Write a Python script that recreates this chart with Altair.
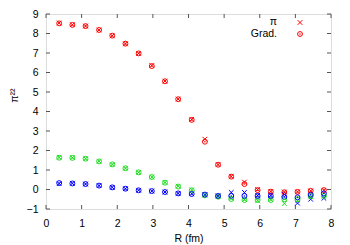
import altair as alt
import pandas as pd

R = [0.37, 0.74, 1.11, 1.49, 1.86, 2.23, 2.60, 2.97, 3.34, 3.71, 4.09,
     4.46, 4.83, 5.20, 5.57, 5.94, 6.31, 6.69, 7.06, 7.43, 7.80]

red_grad = [8.52, 8.44, 8.38, 8.18, 7.89, 7.48, 6.98, 6.33, 5.55, 4.63, 3.57,
            2.45, 1.27, 0.66, 0.28, -0.03, -0.11, -0.14, -0.12, -0.07, -0.03]
red_pi = [8.54, 8.45, 8.38, 8.18, 7.88, 7.47, 6.98, 6.36, 5.56, 4.64, 3.60,
          2.58, 1.28, 0.67, 0.38, 0.00, -0.10, -0.13, -0.12, -0.07, -0.04]
green_grad = [1.63, 1.62, 1.58, 1.44, 1.29, 1.09, 0.88, 0.64, 0.35, 0.15, -0.04,
              -0.30, -0.37, -0.49, -0.54, -0.54, -0.54, -0.50, -0.50, -0.33, -0.33]
green_pi = [1.65, 1.64, 1.58, 1.45, 1.28, 1.09, 0.88, 0.64, 0.36, 0.17, -0.02,
            -0.28, -0.36, -0.45, -0.52, -0.58, -0.52, -0.72, -0.58, -0.38, -0.35]
blue_grad = [0.33, 0.31, 0.28, 0.20, 0.11, 0.04, -0.04, -0.08, -0.13, -0.20, -0.23,
             -0.26, -0.33, -0.33, -0.33, -0.33, -0.33, -0.38, -0.40, -0.27, -0.20]
blue_pi = [0.30, 0.32, 0.28, 0.20, 0.11, 0.04, -0.04, -0.08, -0.13, -0.20, -0.22,
           -0.27, -0.32, -0.15, -0.15, -0.30, -0.30, -0.25, -0.70, -0.50, -0.45]

x_ticks = [0, 1, 2, 3, 4, 5, 6, 7, 8]
y_ticks = [-1, 0, 1, 2, 3, 4, 5, 6, 7, 8, 9]
legend_labels = ["π", "Grad."]

series = ["red", "green", "blue"]
colors = ["#ff0000", "#22dd22", "#0000ff"]

rows = []
for s, pi_vals, gr_vals in [("red", red_pi, red_grad), ("green", green_pi, green_grad), ("blue", blue_pi, blue_grad)]:
    for r, p, g in zip(R, pi_vals, gr_vals):
        rows.append({"R": r, "val": p, "s": s, "m": "pi"})
        rows.append({"R": r, "val": g, "s": s, "m": "grad"})
df = pd.DataFrame(rows)

W, H = 285, 195
FONT = "Liberation Sans"
FS = 10.5

xs = alt.Scale(domain=[0, 8], nice=False, zero=False)
ys = alt.Scale(domain=[-1, 9], nice=False, zero=False)
cs = alt.Scale(domain=series, range=colors)

xaxis = alt.Axis(values=x_ticks, title="R (fm)", domain=False, ticks=False, grid=False,
                 labelPadding=9, titlePadding=5, labelFont=FONT, labelFontSize=FS,
                 labelOverlap=False, labelFlush=False,
                 titleFont=FONT, titleFontSize=FS, titleFontWeight="normal",
                 labelColor="black", titleColor="black")
yaxis = alt.Axis(values=y_ticks, title="π²²", domain=False, ticks=False, grid=False,
                 labelPadding=8, labelFont=FONT, labelFontSize=FS,
                 labelOverlap=False, labelFlush=False,
                 titleFont=FONT, titleFontSize=FS, titleFontWeight="normal",
                 labelColor="black", titleColor="black", titleX=-27, titleY=81)

X = alt.X("R:Q", scale=xs, axis=xaxis)
Y = alt.Y("val:Q", scale=ys, axis=yaxis)

base = alt.Chart(df)
cross_path = "M-1,-1L1,1M-1,1L1,-1"

crosses = base.transform_filter(alt.datum.m == "pi").mark_point(
    shape=cross_path, filled=False, strokeWidth=1, size=22, opacity=1
).encode(x=X, y=Y, color=alt.Color("s:N", scale=cs, legend=None))
circles = base.transform_filter(alt.datum.m == "grad").mark_point(
    shape="circle", filled=False, strokeWidth=1, size=24, opacity=1
).encode(x=X, y=Y, color=alt.Color("s:N", scale=cs, legend=None))
dots = base.transform_filter(alt.datum.m == "grad").mark_point(
    shape="circle", filled=True, size=2.5, opacity=1
).encode(x=X, y=Y, color=alt.Color("s:N", scale=cs, legend=None))

TC = "#555555"
xt = pd.DataFrame({"R": x_ticks})
yt = pd.DataFrame({"val": y_ticks})
xb = alt.Chart(xt).mark_rule(color=TC, strokeWidth=1).encode(
    x=X, y=alt.value(H), y2=alt.value(H - 4))
xtop = alt.Chart(xt).mark_rule(color=TC, strokeWidth=1).encode(
    x=X, y=alt.value(0), y2=alt.value(4))
yl = alt.Chart(yt).mark_rule(color=TC, strokeWidth=1).encode(
    y=Y, x=alt.value(0), x2=alt.value(4))
yr = alt.Chart(yt).mark_rule(color=TC, strokeWidth=1).encode(
    y=Y, x=alt.value(W), x2=alt.value(W - 4))

leg = pd.DataFrame({"label": legend_labels})
leg_pi_text = alt.Chart(leg).transform_filter(alt.datum.label == "π").mark_text(
    align="right", baseline="middle", font=FONT, fontSize=FS, color="black"
).encode(text="label:N", x=alt.value(231), y=alt.value(8))
leg_gr_text = alt.Chart(leg).transform_filter(alt.datum.label == "Grad.").mark_text(
    align="right", baseline="middle", font=FONT, fontSize=FS, color="black"
).encode(text="label:N", x=alt.value(231), y=alt.value(20))
leg_pi_sym = alt.Chart(leg).transform_filter(alt.datum.label == "π").mark_point(
    shape=cross_path, filled=False, strokeWidth=1, size=22, color="#ff0000", opacity=1
).encode(x=alt.value(254), y=alt.value(8.5))
leg_gr_sym = alt.Chart(leg).transform_filter(alt.datum.label == "Grad.").mark_point(
    shape="circle", filled=False, strokeWidth=1, size=24, color="#ff0000", opacity=1
).encode(x=alt.value(254), y=alt.value(20))
leg_gr_dot = alt.Chart(leg).transform_filter(alt.datum.label == "Grad.").mark_point(
    shape="circle", filled=True, size=2.5, color="#ff0000", opacity=1
).encode(x=alt.value(254), y=alt.value(20))

chart = alt.layer(
    xb, xtop, yl, yr, crosses, circles, dots,
    leg_pi_text, leg_gr_text, leg_pi_sym, leg_gr_sym, leg_gr_dot
).properties(
    width=W, height=H,
    autosize=alt.AutoSizeParams(type="none"),
    padding={"left": 38, "top": 6, "right": 10, "bottom": 38},
).configure_view(stroke=TC, strokeWidth=1).configure(background="white")

chart.save("out.html", embed_options={"renderer": "svg", "actions": False})
